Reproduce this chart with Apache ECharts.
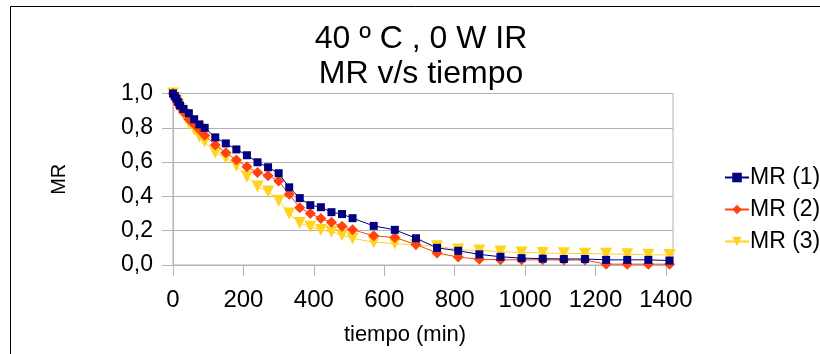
<!DOCTYPE html>
<html>
<head>
<meta charset="utf-8">
<script src="https://cdn.jsdelivr.net/npm/echarts@6/dist/echarts.min.js"></script>
<style>
  html, body { margin: 0; padding: 0; background: #fff; }
  #chart { width: 820px; height: 354px; }
</style>
</head>
<body>
<div id="chart"></div>
<script>
// Drying time (min) shared by the three runs
const tiempo = [0, 5, 10, 15, 20, 30, 45, 60, 75, 90,
  120, 150, 180, 210, 240, 270, 300, 330, 360, 390, 420, 450, 480, 510,
  570, 630, 690, 750, 810, 870, 930, 990, 1050, 1110, 1170, 1230, 1290, 1350, 1410];

// Moisture ratio, run 1
const mr1 = [1.0, 0.985, 0.97, 0.95, 0.93, 0.91, 0.885, 0.85, 0.82, 0.80,
  0.744, 0.709, 0.674, 0.640, 0.599, 0.570, 0.535, 0.453, 0.39, 0.349, 0.337, 0.308, 0.297, 0.273,
  0.228, 0.205, 0.156, 0.10, 0.083, 0.062, 0.048, 0.04, 0.037, 0.035, 0.035, 0.03, 0.03, 0.03, 0.026];

// Moisture ratio, run 2
const mr2 = [1.0, 0.98, 0.96, 0.94, 0.92, 0.89, 0.85, 0.82, 0.79, 0.757,
  0.70, 0.655, 0.612, 0.573, 0.54, 0.521, 0.49, 0.412, 0.334, 0.301, 0.271, 0.249, 0.226, 0.206,
  0.170, 0.160, 0.12, 0.07, 0.046, 0.034, 0.03, 0.03, 0.03, 0.029, 0.029, 0.005, 0.005, 0.005, 0.005];

// Moisture ratio, run 3
const mr3 = [1.0, 0.975, 0.955, 0.935, 0.91, 0.88, 0.83, 0.79, 0.75, 0.72,
  0.655, 0.625, 0.578, 0.515, 0.457, 0.428, 0.375, 0.30, 0.245, 0.223, 0.204, 0.194, 0.175, 0.155,
  0.133, 0.125, 0.115, 0.11, 0.09, 0.085, 0.078, 0.073, 0.07, 0.068, 0.066, 0.065, 0.062, 0.06, 0.058];

const seriesNames = ['MR (1)', 'MR (2)', 'MR (3)'];
const xTicks = [0, 200, 400, 600, 800, 1000, 1200, 1400];
const yTicks = [0, 0.2, 0.4, 0.6, 0.8, 1.0];

const pairs = (ys) => tiempo.map((t, i) => [t, ys[i]]);
const gridGrey = '#b3b3b3';
const font = 'Liberation Sans, Arial, sans-serif';

const chart = echarts.init(document.getElementById('chart'), null, { renderer: 'canvas' });

chart.setOption({
  backgroundColor: '#fff',
  animation: false,
  title: {
    text: '40 º C , 0 W IR\nMR v/s tiempo',
    left: 416,
    top: 17,
    textAlign: 'center',
    textStyle: {
      fontFamily: font,
      fontWeight: 'normal',
      fontSize: 32,
      lineHeight: 35,
      color: '#000'
    }
  },
  graphic: [{
    type: 'rect',
    shape: { x: 10.5, y: 6.5, width: 900, height: 400 },
    style: { fill: 'none', stroke: '#000', lineWidth: 1 },
    silent: true
  }],
  legend: {
    orient: 'vertical',
    left: 719,
    top: 161,
    itemWidth: 24,
    itemHeight: 12,
    itemGap: 9,
    data: seriesNames,
    textStyle: { fontFamily: font, fontSize: 23, color: '#000', padding: [0, 0, 0, -4] }
  },
  grid: {
    left: 173,
    right: 147,
    top: 93.5,
    bottom: 89,
    show: true,
    borderColor: gridGrey,
    borderWidth: 1
  },
  xAxis: {
    type: 'value',
    min: 0,
    max: 1420,
    interval: 200,
    name: 'tiempo (min)',
    nameLocation: 'middle',
    nameGap: 59,
    nameTextStyle: { fontFamily: font, fontSize: 22, color: '#000', padding: [0, 36, 0, 0] },
    axisLine: { show: true, lineStyle: { color: gridGrey } },
    axisTick: { show: true, length: 11, lineStyle: { color: gridGrey }, customValues: xTicks },
    axisLabel: {
      fontFamily: font, fontSize: 24, color: '#000', margin: 23,
      customValues: xTicks,
      formatter: (v) => String(v)
    },
    splitLine: { show: false }
  },
  yAxis: {
    type: 'value',
    min: 0,
    max: 1,
    interval: 0.2,
    name: 'MR',
    nameLocation: 'middle',
    nameGap: 104,
    nameRotate: 90,
    nameTextStyle: { fontFamily: font, fontSize: 20, color: '#000' },
    axisLine: { show: true, lineStyle: { color: gridGrey } },
    axisTick: { show: true, length: 11, lineStyle: { color: gridGrey }, customValues: yTicks },
    axisLabel: {
      fontFamily: font, fontSize: 23, color: '#000', margin: 20,
      customValues: yTicks,
      formatter: (v) => v.toFixed(1).replace('.', ',')
    },
    splitLine: { show: true, lineStyle: { color: gridGrey } }
  },
  series: [
    {
      name: seriesNames[0], type: 'line', data: pairs(mr1), z: 5,
      symbol: 'rect', symbolSize: 8,
      lineStyle: { color: '#000080', width: 1 },
      itemStyle: { color: '#000080' }
    },
    {
      name: seriesNames[1], type: 'line', data: pairs(mr2), z: 4,
      symbol: 'diamond', symbolSize: 11,
      lineStyle: { color: '#ff420e', width: 1 },
      itemStyle: { color: '#ff420e' }
    },
    {
      name: seriesNames[2], type: 'line', data: pairs(mr3), z: 3,
      symbol: 'triangle', symbolRotate: 180, symbolSize: 12,
      lineStyle: { color: '#ffd320', width: 1 },
      itemStyle: { color: '#ffd320' }
    }
  ]
});
</script>
</body>
</html>
